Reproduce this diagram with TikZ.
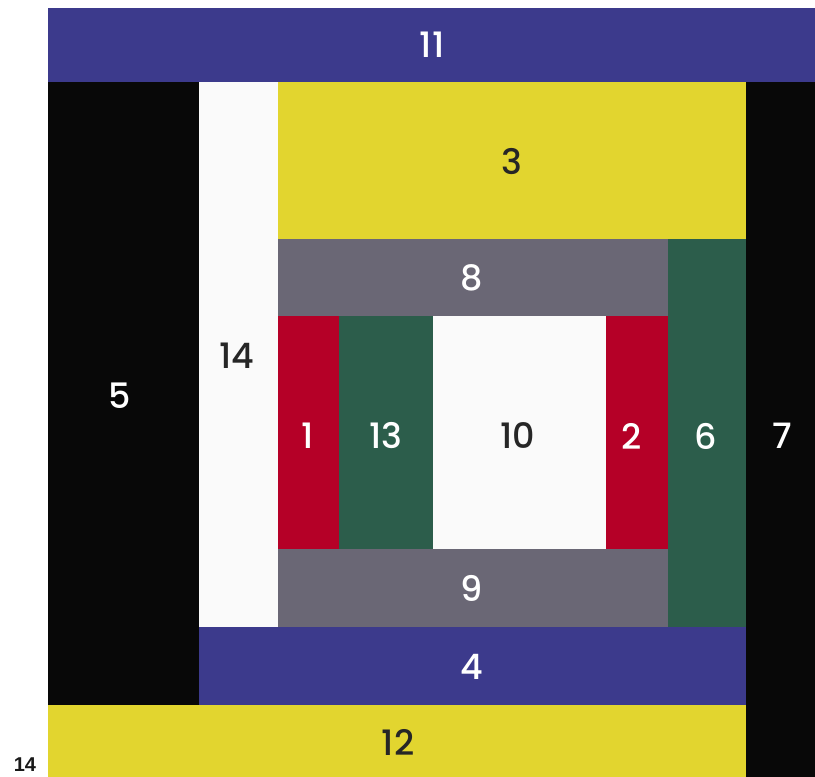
\documentclass[tikz,border=0pt]{standalone}
\usepackage{fontspec}
\setmainfont{Poppins Medium}
\newfontfamily\capfont{Liberation Sans}
\definecolor{cblue}{HTML}{3C3A8C}
\definecolor{cyellow}{HTML}{E2D52F}
\definecolor{cblack}{HTML}{080808}
\definecolor{cgray}{HTML}{6A6775}
\definecolor{cgreen}{HTML}{2C5D4B}
\definecolor{cred}{HTML}{B50027}
\definecolor{cwhite}{HTML}{FAFAFA}
\tikzset{
  lbl/.style={font=\fontsize{35}{35}\selectfont, inner sep=0pt},
  lw/.style={lbl, text=white},
  lk/.style={lbl, text=black!85},
}
\begin{document}
\begin{tikzpicture}[x=1pt,y=-1pt]
\useasboundingbox (0,0) rectangle (815,777);
\fill[white] (0,0) rectangle (815,777);
% blocks
\fill[cblue] (48,8) rectangle (815,82);
\fill[cblack] (48,82) rectangle (199,705);
\fill[cwhite] (199,82) rectangle (278,627);
\fill[cyellow] (278,82) rectangle (746,239);
\fill[cblack] (746,82) rectangle (815,777);
\fill[cgray] (278,239) rectangle (668,316);
\fill[cgreen] (668,239) rectangle (746,627);
\fill[cred] (278,316) rectangle (339,549);
\fill[cgreen] (339,316) rectangle (433,549);
\fill[cwhite] (433,316) rectangle (606,549);
\fill[cred] (606,316) rectangle (668,549);
\fill[cgray] (278,549) rectangle (668,627);
\fill[cblue] (199,627) rectangle (746,705);
\fill[cyellow] (48,705) rectangle (746,777);
% labels
\node[lw] (l11) at (432,45) {11};
\node[lk] (l3) at (512,162) {3};
\node[lw] (l8) at (472,278) {8};
\node[lk] (l14) at (237,356) {14};
\node[lw] (l5) at (120,396) {5};
\node[lw] (l1) at (308,436) {1};
\node[lw] (l13) at (386,436) {13};
\node[lk] (l10) at (518,436) {10};
\node[lw] (l2) at (632,436) {2};
\node[lw] (l6) at (706,436) {6};
\node[lw] (l7) at (782,436) {7};
\node[lw] (l9) at (472,588) {9};
\node[lw] (l4) at (472,667) {4};
\node[lk] (l12) at (398,742) {12};
\node[font=\capfont\bfseries\fontsize{20}{20}\selectfont, inner sep=0pt, text=black!90] (cap) at (25,765) {14};
\end{tikzpicture}
\end{document}
